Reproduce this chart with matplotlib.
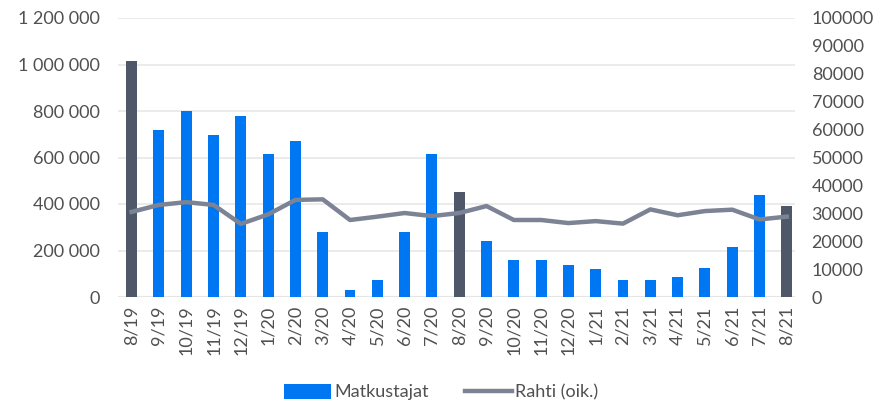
import matplotlib
matplotlib.use("Agg")
import matplotlib.pyplot as plt
from matplotlib.ticker import FuncFormatter, MultipleLocator
from matplotlib.patches import Patch
from matplotlib.lines import Line2D

plt.rcParams['font.family'] = ['Lato', 'DejaVu Sans']

months = ["8/19", "9/19", "10/19", "11/19", "12/19", "1/20", "2/20", "3/20", "4/20", "5/20",
          "6/20", "7/20", "8/20", "9/20", "10/20", "11/20", "12/20", "1/21", "2/21", "3/21",
          "4/21", "5/21", "6/21", "7/21", "8/21"]
matkustajat = [1015000, 718000, 798000, 695000, 778000, 615000, 670000, 278000, 30000, 75000,
               280000, 615000, 450000, 243000, 160000, 157000, 138000, 120000, 72000, 72000,
               85000, 123000, 215000, 440000, 390000]
rahti = [30500, 33000, 34000, 33000, 26200, 29600, 34800, 35000, 27600, 28800,
         30100, 29000, 30100, 32600, 27600, 27600, 26500, 27200, 26300, 31400,
         29300, 30800, 31300, 27800, 28800]

blue = "#0077F2"
dark = "#4E5868"
line_c = "#7B8394"
txt = "#505050"

fig = plt.figure(figsize=(8.82, 4.04), dpi=100)
ax = fig.add_axes([118/882, 1-297/404, (795-118)/882, (297-18)/404])
x = list(range(len(months)))
colors = [dark if m.startswith("8/") else blue for m in months]
ax.bar(x, matkustajat, width=0.4, color=colors, zorder=2)
ax.set_ylim(0, 1200000)
ax.set_xlim(-0.5, 24.3)
ax.yaxis.set_major_locator(MultipleLocator(200000))
ax.yaxis.set_major_formatter(FuncFormatter(lambda v, p: f"{int(v):,}".replace(",", " ")))
ax.grid(axis="y", color="#E8E8E8", linewidth=1.2, zorder=0)
for s in ax.spines.values():
    s.set_visible(False)
ax.axhline(0, color="#DADADA", linewidth=1.5, zorder=1)
ax.set_xticks(x)
ax.set_xticklabels(months, rotation=90, fontsize=13, color=txt)
ax.tick_params(axis="both", length=0, colors=txt, labelsize=13)
ax.tick_params(axis="y", pad=13)
ax.tick_params(axis="x", pad=6)

ax2 = ax.twinx()
ax2.plot(x, rahti, color=line_c, linewidth=3.2, zorder=3, solid_joinstyle="round")
ax2.set_ylim(0, 100000)
ax2.yaxis.set_major_locator(MultipleLocator(10000))
ax2.yaxis.set_major_formatter(FuncFormatter(lambda v, p: f"{int(v)}"))
for s in ax2.spines.values():
    s.set_visible(False)
ax2.tick_params(axis="y", length=0, colors=txt, labelsize=13, pad=12)

handles = [Patch(facecolor=blue, label="Matkustajat"),
           Line2D([0], [0], color=line_c, linewidth=3.2, label="Rahti (oik.)")]
fig.legend(handles=handles, loc="center", bbox_to_anchor=(0.5, 1-392/404), ncol=2,
           frameon=False, fontsize=13, labelcolor=txt, handlelength=2.6, handletextpad=0.2,
           columnspacing=2.0, handleheight=0.9)

fig.savefig("out.png", dpi=100)
